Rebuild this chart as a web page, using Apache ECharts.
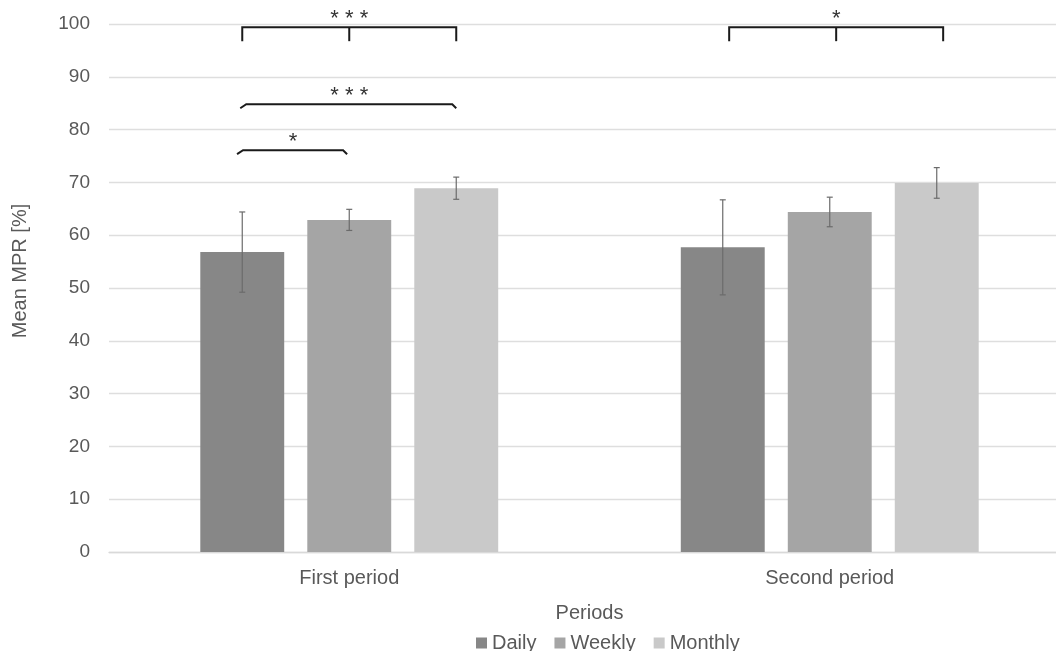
<!DOCTYPE html>
<html>
<head>
<meta charset="utf-8">
<script src="https://cdn.jsdelivr.net/npm/echarts@6/dist/echarts.min.js"></script>
<style>
html,body{margin:0;padding:0;background:#fff;overflow:hidden;width:1056px;height:651px;}
#chart{width:1070px;height:651px;}
</style>
</head>
<body>
<div id="chart"></div>
<script>
// ---- data ----
const categories = ['First period', 'Second period'];
const seriesNames = ['Daily', 'Weekly', 'Monthly'];
const daily = [56.8, 57.7];
const weekly = [62.9, 64.4];
const monthly = [68.9, 69.9];
const dailyErr = [7.6, 9.0];
const weeklyErr = [2.0, 2.8];
const monthlyErr = [2.1, 2.9];
const yTicks = [0, 100, 10]; // min, max, interval

// significance brackets (category, from bar, to bar, level, label)
const bracketCats = [0, 0, 0, 1];
const bracketFrom = [0, 0, -0.03, 0.06];
const bracketTo = [2, 2, 0.98, 2.06];
const bracketLevel = [99.4, 84.8, 76.1, 99.4];
const bracketLabels = ['* * *', '* * *', '*', '*'];
const bracketKind = ['tick', 'slant', 'slant', 'tick'];

// ---- layout constants ----
const colors = ['#878787', '#a5a5a5', '#c9c9c9'];
const CAT_GAP = 0.38, BAR_GAP = 0.275;
const textColor = '#595959';
const fontFam = '"Liberation Sans", Arial, sans-serif';

const chart = echarts.init(document.getElementById('chart'));

function barCenter(api, cat, barPos) {
  const band = api.size([1, 0])[0];
  const bw = band * (1 - CAT_GAP) / (3 + 2 * BAR_GAP);
  const off = (barPos - 1) * bw * (1 + BAR_GAP);
  return api.coord([cat, 0])[0] + off;
}

const values = [daily, weekly, monthly];
const errs = [dailyErr, weeklyErr, monthlyErr];

const barSeries = seriesNames.map((n, j) => ({
  name: n,
  type: 'bar',
  data: values[j],
  barCategoryGap: (CAT_GAP * 100) + '%',
  barGap: (BAR_GAP * 100) + '%',
  itemStyle: { color: colors[j] },
  z: 2
}));

const errSeries = seriesNames.map((n, j) => ({
  name: n + ' error',
  type: 'custom',
  z: 5,
  clip: false,
  silent: true,
  data: categories.map((c, i) => [i, values[j][i] - errs[j][i], values[j][i] + errs[j][i]]),
  renderItem: function (params, api) {
    const cat = api.value(0);
    const x = barCenter(api, cat, j);
    const yLo = api.coord([cat, api.value(1)])[1];
    const yHi = api.coord([cat, api.value(2)])[1];
    const st = { stroke: '#6b6b6b', lineWidth: 1.2 };
    const cap = 3;
    return {
      type: 'group',
      children: [
        { type: 'line', shape: { x1: x, y1: yLo, x2: x, y2: yHi }, style: st },
        { type: 'line', shape: { x1: x - cap, y1: yLo, x2: x + cap, y2: yLo }, style: st },
        { type: 'line', shape: { x1: x - cap, y1: yHi, x2: x + cap, y2: yHi }, style: st }
      ]
    };
  }
}));

const bracketSeries = {
  name: 'brackets',
  type: 'custom',
  z: 6,
  clip: false,
  silent: true,
  data: bracketCats.map((c, k) => [c, bracketLevel[k], bracketFrom[k], bracketTo[k]]),
  renderItem: function (params, api) {
    const k = params.dataIndex;
    const cat = api.value(0);
    const y = api.coord([cat, api.value(1)])[1];
    const x1 = barCenter(api, cat, api.value(2));
    const x2 = barCenter(api, cat, api.value(3));
    const st = { stroke: '#1a1a1a', lineWidth: 2, fill: null, lineJoin: 'miter' };
    const children = [];
    let xm = (x1 + x2) / 2;
    if (bracketKind[k] === 'tick') {
      const d = 14;
      children.push({ type: 'polyline', shape: { points: [[x1, y + d], [x1, y], [x2, y], [x2, y + d]] }, style: st });
      const xmid = barCenter(api, cat, (api.value(2) + api.value(3)) / 2);
      children.push({ type: 'line', shape: { x1: xmid, y1: y, x2: xmid, y2: y + d }, style: st });
      xm = xmid;
    } else {
      children.push({ type: 'polyline', shape: { points: [[x1 - 2, y + 4], [x1 + 4, y], [x2 - 4, y], [x2, y + 4]] }, style: st });
    }
    children.push({
      type: 'text',
      style: {
        text: bracketLabels[k],
        x: xm, y: y - 8,
        align: 'center', verticalAlign: 'middle',
        font: '22px ' + fontFam,
        fill: '#333333'
      }
    });
    return { type: 'group', children: children };
  }
};

chart.setOption({
  animation: false,
  backgroundColor: '#ffffff',
  textStyle: { fontFamily: fontFam },
  grid: { left: 109, top: 24, right: 0, bottom: 99 },
  legend: {
    data: seriesNames,
    left: 471,
    top: 628,
    icon: 'rect',
    itemWidth: 11,
    itemHeight: 11,
    itemGap: 18,
    textStyle: { color: textColor, fontSize: 20, fontFamily: fontFam }
  },
  xAxis: {
    type: 'category',
    data: categories,
    axisTick: { show: false },
    axisLine: { lineStyle: { color: '#d9d9d9', width: 1.3 } },
    axisLabel: { color: textColor, fontSize: 20, margin: 16, fontFamily: fontFam },
    name: 'Periods',
    nameLocation: 'middle',
    nameGap: 51,
    nameTextStyle: { color: textColor, fontSize: 20, fontFamily: fontFam }
  },
  yAxis: {
    type: 'value',
    min: yTicks[0],
    max: yTicks[1],
    interval: yTicks[2],
    axisLine: { show: false },
    axisTick: { show: false },
    splitLine: { lineStyle: { color: '#dedede', width: 1.3 } },
    axisLabel: { color: textColor, fontSize: 19, margin: 19, fontFamily: fontFam },
    name: 'Mean MPR [%]',
    nameLocation: 'middle',
    nameGap: 79,
    nameTextStyle: { color: textColor, fontSize: 20, fontFamily: fontFam, padding: [0, 0, 0, 34] }
  },
  series: [...barSeries, ...errSeries, bracketSeries]
});
</script>
</body>
</html>
